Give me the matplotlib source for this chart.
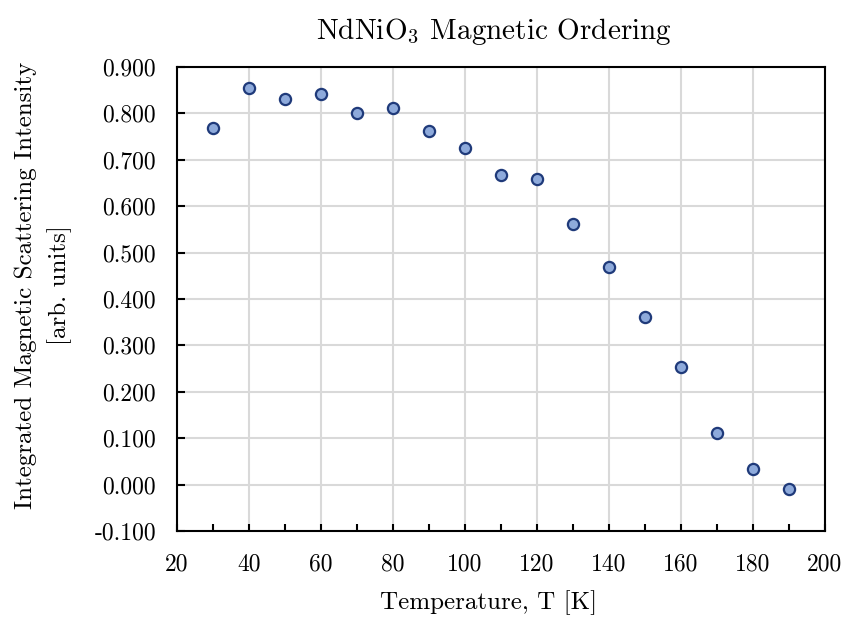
import matplotlib
matplotlib.use("Agg")
import matplotlib.pyplot as plt
from matplotlib.ticker import MultipleLocator, FuncFormatter

plt.rcParams['font.family'] = 'serif'
plt.rcParams['font.serif'] = ['cmr10']
plt.rcParams['mathtext.fontset'] = 'cm'
plt.rcParams['axes.unicode_minus'] = False

temperature = [30, 40, 50, 60, 70, 80, 90, 100, 110, 120, 130, 140, 150, 160, 170, 180, 190]
intensity = [0.768, 0.855, 0.831, 0.842, 0.801, 0.811, 0.762, 0.725, 0.667, 0.658,
             0.562, 0.469, 0.361, 0.253, 0.111, 0.034, -0.009]

fig = plt.figure(figsize=(8.47, 6.25), dpi=100)
ax = fig.add_axes([0.209, 0.1504, 0.765, 0.7424])

ax.scatter(temperature, intensity, s=65, facecolor='#8eaadb', edgecolor='#1f3a7a',
           linewidth=1.6, zorder=3)

ax.set_xlim(20, 200)
ax.set_ylim(-0.1, 0.9)
ax.xaxis.set_major_locator(MultipleLocator(20))
ax.xaxis.set_minor_locator(MultipleLocator(10))
ax.yaxis.set_major_locator(MultipleLocator(0.1))
ax.yaxis.set_major_formatter(FuncFormatter(lambda v, p: f"{v:.3f}".replace("-0.000", "0.000")))

ax.grid(True, which='major', color='#d9d9d9', linewidth=1.5, zorder=0)
ax.set_axisbelow(True)
for s in ax.spines.values():
    s.set_linewidth(1.5)
    s.set_color('black')

ax.tick_params(which='both', direction='in', length=5, width=1.5)
ax.tick_params(axis='y', which='major', length=6)
ax.tick_params(axis='y', labelsize=17, pad=15)
ax.tick_params(axis='x', labelsize=17, pad=16)

ax.set_title(r"NdNiO$_3$ Magnetic Ordering", fontsize=21, pad=20, x=0.489)
ax.set_xlabel("Temperature, T [K]", fontsize=18)
ax.set_ylabel("Integrated Magnetic Scattering Intensity\n[arb. units]", fontsize=18,
              linespacing=1.55)
# labels in the original sit a little left / above the axes centre
ax.xaxis.set_label_coords(0.481, -0.128)
ax.yaxis.set_label_coords(-0.162, 0.53)

fig.savefig("out.png", dpi=100)
